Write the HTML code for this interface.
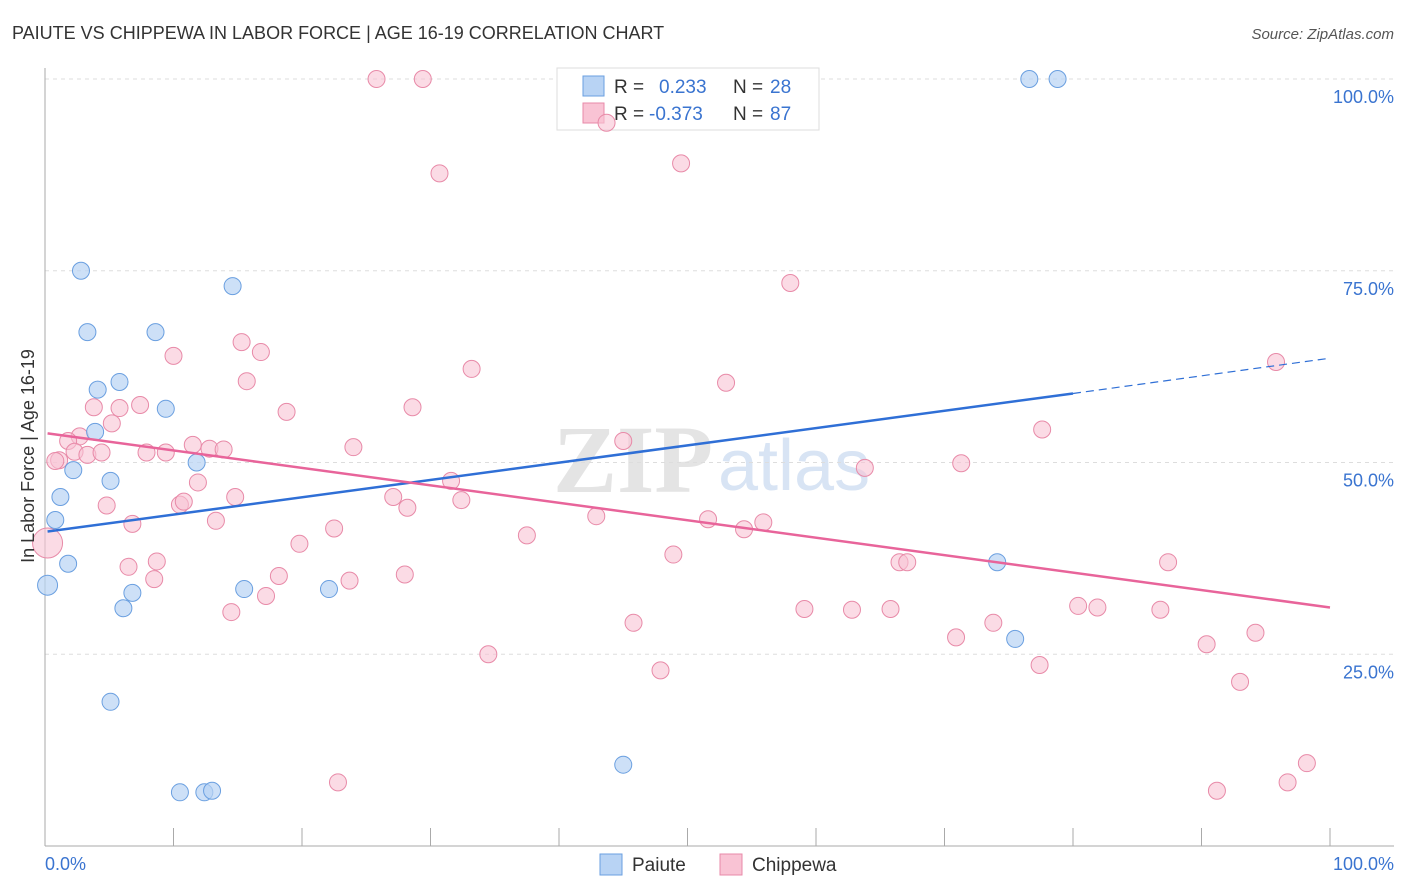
<!DOCTYPE html>
<html><head><meta charset="utf-8"><style>
body{margin:0;background:#fff;font-family:"Liberation Sans",sans-serif}
svg{display:block}
</style></head><body>
<svg id="c" width="1406" height="892">
<text x="12" y="39" font-size="18" fill="#333">PAIUTE VS CHIPPEWA IN LABOR FORCE | AGE 16-19 CORRELATION CHART</text>
<text x="1394" y="39" font-size="15" fill="#555" text-anchor="end" font-style="italic">Source: ZipAtlas.com</text>
<text x="553" y="492" font-size="96" fill="#e4e4e4" font-family="Liberation Serif" font-weight="bold">ZIP</text>
<text x="718" y="490" font-size="72" fill="#d8e4f4">atlas</text>
<g id="grid"></g>
<g>
<rect x="557" y="68" width="262" height="62" fill="#fff" stroke="#ddd"/>
<rect x="583" y="76" width="21" height="20" fill="#b8d3f4" stroke="#6a9fe0"/>
<rect x="583" y="103" width="21" height="20" fill="#f9c3d4" stroke="#e88aa8"/>
<text x="614" y="93" font-size="19" fill="#333">R =</text><text x="659" y="93" font-size="19" fill="#3a74d0">0.233</text>
<text x="733" y="93" font-size="19" fill="#333">N =</text><text x="770" y="93" font-size="19" fill="#3a74d0">28</text>
<text x="614" y="120" font-size="19" fill="#333">R =</text><text x="649" y="120" font-size="19" fill="#3a74d0">-0.373</text>
<text x="733" y="120" font-size="19" fill="#333">N =</text><text x="770" y="120" font-size="19" fill="#3a74d0">87</text>
</g>
<g id="pts"></g><g id="lines"></g>
<text transform="translate(34,456) rotate(-90)" font-size="18" fill="#333" text-anchor="middle">In Labor Force | Age 16-19</text>
<text x="45" y="870" font-size="18" fill="#3a74d0">0.0%</text>
<text x="1394" y="870" font-size="18" fill="#3a74d0" text-anchor="end">100.0%</text>
<g>
<rect x="600" y="854" width="22" height="21" fill="#b8d3f4" stroke="#6a9fe0"/>
<text x="632" y="871" font-size="19" fill="#333">Paiute</text>
<rect x="720" y="854" width="22" height="21" fill="#f9c3d4" stroke="#e88aa8"/>
<text x="752" y="871" font-size="19" fill="#333">Chippewa</text>
</g>
</svg>
<script>
const yTicks=[25,50,75,100];
const yTickLabels=["25.0%","50.0%","75.0%","100.0%"];
const paiuteX=[2.8,3.3,8.6,14.6,4.1,5.8,9.4,3.9,5.1,11.8,2.2,1.2,0.8,0.2,1.8,6.8,6.1,15.5,22.1,5.1,10.5,12.4,13.0,45.0,76.6,78.8,74.1,75.5];
const paiuteY=[75,67,67,73,59.5,60.5,57,54,47.6,50,49,45.5,42.5,34,36.8,33,31,33.5,33.5,18.8,7,7,7.2,10.6,100,100,37,27];
const chipX=[25.8,29.4,43.7,30.7,49.5,58,15.3,16.8,10,15.7,33.2,53,3.8,5.8,7.4,18.8,28.6,5.2,2.7,1.8,1.1,0.8,2.3,3.3,4.4,7.9,9.4,11.5,12.8,13.9,24,77.6,45,63.8,71.3,31.6,27.1,32.4,14.8,11.9,4.8,10.5,10.8,13.3,6.8,28.2,22.5,37.5,42.9,51.6,54.4,55.9,19.8,48.9,8.7,6.5,8.5,18.2,17.2,23.7,28,14.5,66.5,67.1,87.4,59.1,62.8,65.8,80.4,81.9,86.8,45.8,73.8,70.9,94.2,90.4,34.5,47.9,77.4,93,95.8,22.8,91.2,96.7,98.2,0.2];
const chipY=[100,100,94.3,87.7,89,73.4,65.7,64.4,63.9,60.6,62.2,60.4,57.2,57.1,57.5,56.6,57.2,55.1,53.4,52.8,50.3,50.2,51.4,51,51.3,51.3,51.3,52.3,51.8,51.7,52,54.3,52.8,49.3,49.9,47.6,45.5,45.1,45.5,47.4,44.4,44.5,44.9,42.4,42,44.1,41.4,40.5,43,42.6,41.3,42.2,39.4,38,37.1,36.4,34.8,35.2,32.6,34.6,35.4,30.5,37,37,37,30.9,30.8,30.9,31.3,31.1,30.8,29.1,29.1,27.2,27.8,26.3,25,22.9,23.6,21.4,63.1,8.3,7.2,8.3,10.8,39.5];
const X=v=>45+v*12.85, Y=v=>846-v*7.67;
const NS="http://www.w3.org/2000/svg";
function mk(t,a,p){const e=document.createElementNS(NS,t);for(const k in a)e.setAttribute(k,a[k]);p.appendChild(e);return e;}
const grid=document.getElementById('grid');
yTicks.forEach((t,i)=>{
 const l=mk('line',{x1:45,x2:1394,y1:Y(t),y2:Y(t),stroke:'#ddd','stroke-dasharray':'4,4'},grid);
 
 
 const tx=mk('text',{x:1394,y:Y(t)+24,'font-size':18,fill:'#3a74d0','text-anchor':'end'},grid);
 tx.textContent=yTickLabels[i];
 
 
});
const ax=mk('line',{x1:45,x2:45,y1:68,y2:846,stroke:'#aaa'},grid);


const bx=mk('line',{x1:45,x2:1394,y1:846,y2:846,stroke:'#aaa'},grid);


for(let i=0;i<=10;i++){const t=mk('line',{x1:X(i*10),x2:X(i*10),y1:828,y2:846,stroke:'#aaa'},grid);
 
 }
const pts=document.getElementById('pts');
chipX.forEach((x,i)=>{const c=mk('circle',{cx:X(x),cy:Y(chipY[i]),r:i==chipX.length-1?15:8.5,fill:'#f9c3d4','fill-opacity':0.6,stroke:'#e88aa8','stroke-width':1},pts);
 
 });
paiuteX.forEach((x,i)=>{const c=mk('circle',{cx:X(x),cy:Y(paiuteY[i]),r:i==13?10:8.5,fill:'#b8d3f4','fill-opacity':0.7,stroke:'#6a9fe0','stroke-width':1},pts);
 
 });
const L=document.getElementById('lines');
const b1=mk('line',{x1:X(0.2),y1:Y(41),x2:X(80),y2:Y(59),stroke:'#2f6fd6','stroke-width':2.5},L);


const b2=mk('line',{x1:X(80),y1:Y(59),x2:X(100),y2:Y(63.6),stroke:'#2f6fd6','stroke-width':1.2,'stroke-dasharray':'8,5'},L);


const p1=mk('line',{x1:X(0.2),y1:Y(53.8),x2:X(100),y2:Y(31.1),stroke:'#e8649a','stroke-width':2.5},L);


</script>
</body></html>
